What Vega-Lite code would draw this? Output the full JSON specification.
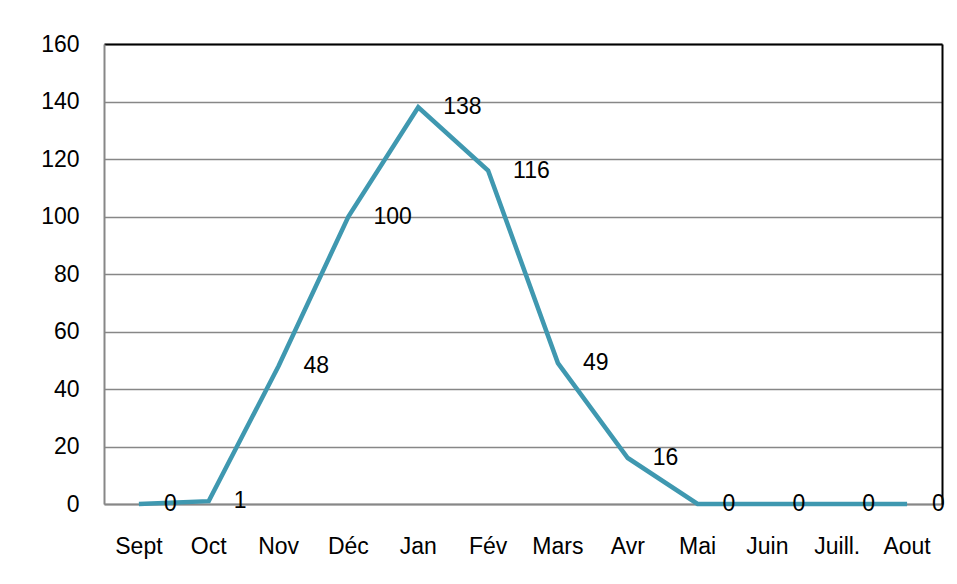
{
  "$schema": "https://vega.github.io/schema/vega-lite/v6.json",
  "width": 838,
  "height": 460,
  "autosize": {"type": "none"},
  "padding": {"left": 104, "top": 44, "right": 15, "bottom": 80},
  "background": "white",
  "config": {
    "view": {"stroke": null},
    "font": "Liberation Sans",
    "axis": {"labelFont": "Liberation Sans", "labelFontSize": 23, "labelColor": "black", "ticks": false, "title": null}
  },
  "data": {"values": [
    {"month": "Sept", "value": 0},
    {"month": "Oct", "value": 1},
    {"month": "Nov", "value": 48},
    {"month": "Déc", "value": 100},
    {"month": "Jan", "value": 138},
    {"month": "Fév", "value": 116},
    {"month": "Mars", "value": 49},
    {"month": "Avr", "value": 16},
    {"month": "Mai", "value": 0},
    {"month": "Juin", "value": 0},
    {"month": "Juill.", "value": 0},
    {"month": "Aout", "value": 0}
  ]},
  "resolve": {"axis": {"x": "independent", "y": "independent"}},
  "layer": [
    {
      "mark": {"type": "rule", "opacity": 0},
      "encoding": {
        "x": {"field": "month", "type": "nominal", "sort": null, "scale": {"type": "band", "paddingInner": 0, "paddingOuter": 0},
              "axis": {"orient": "top", "labels": false, "domainColor": "black", "domainWidth": 2}},
        "y": {"field": "value", "type": "quantitative", "scale": {"domain": [0, 160], "nice": false},
              "axis": {"orient": "right", "labels": false, "grid": false, "domainColor": "black", "domainWidth": 2}}
      }
    },
    {
      "mark": {"type": "line", "color": "#3F98B0", "strokeWidth": 4.5},
      "encoding": {
        "x": {"field": "month", "type": "nominal", "sort": null, "scale": {"type": "band", "paddingInner": 0, "paddingOuter": 0},
              "axis": {"orient": "bottom", "labelAngle": 0, "labelPadding": 31, "domainColor": "#878787", "domainWidth": 2}},
        "y": {"field": "value", "type": "quantitative", "scale": {"domain": [0, 160], "nice": false},
              "axis": {"orient": "left", "values": [0, 20, 40, 60, 80, 100, 120, 140, 160], "labelPadding": 25, "grid": true, "gridColor": "#878787", "gridWidth": 1.5, "domainColor": "#878787", "domainWidth": 2}}
      }
    },
    {
      "mark": {"type": "text", "align": "left", "baseline": "middle", "dx": 25, "fontSize": 23, "color": "black"},
      "encoding": {
        "x": {"field": "month", "type": "nominal", "sort": null, "scale": {"type": "band", "paddingInner": 0, "paddingOuter": 0}, "axis": null},
        "y": {"field": "value", "type": "quantitative", "axis": null},
        "text": {"field": "value", "type": "quantitative"}
      }
    }
  ]
}
